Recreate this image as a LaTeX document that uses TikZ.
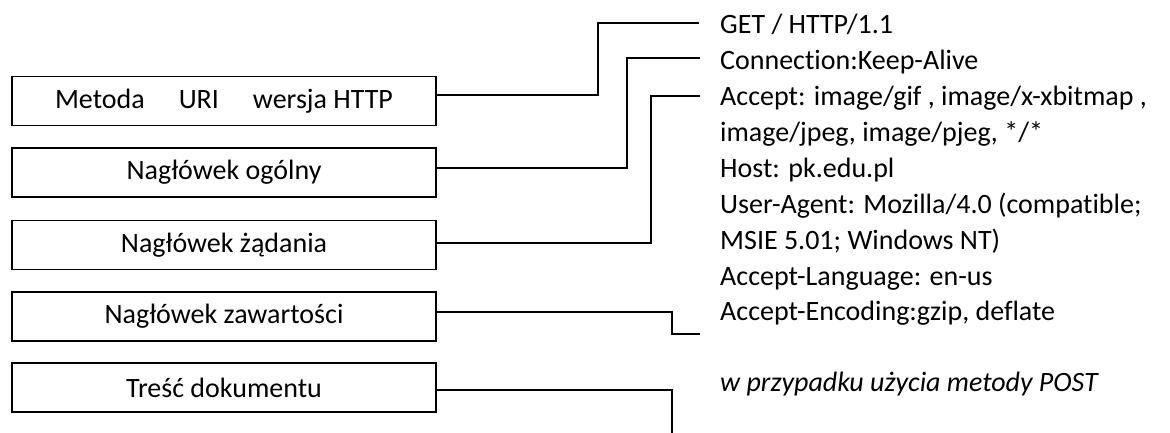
\documentclass[tikz,border=0pt]{standalone}
\usepackage{fontspec}
\setmainfont[Ligatures={NoCommon}]{Carlito}
\begin{document}
\begin{tikzpicture}[x=1pt,y=-1pt,
  box/.style={draw,line width=1.8pt,minimum width=424pt,minimum height=49pt,inner sep=0pt,font=\fontsize{28}{30}\selectfont},
  txt/.style={anchor=base west,inner sep=0pt,font=\fontsize{28}{30}\selectfont},
  conn/.style={line width=1.8pt}]
\useasboundingbox (0,0) rectangle (1170,433);
\node[box] (b1) at (224,101) {Metoda\hspace{34pt}URI\hspace{34pt}wersja HTTP\hspace{8pt}};
\node[box] (b2) at (224,172.5) {Nagłówek ogólny};
\node[box] (b3) at (224,245) {Nagłówek żądania};
\node[box] (b4) at (224,316.5) {Nagłówek zawartości};
\node[box] (b5) at (224,387.5) {Treść dokumentu};
\node[txt] (t1) at (720,34) {GET / HTTP/1.1};
\node[txt] (t2) at (720,70) {Connection:Keep-Alive};
\node[txt] (t3) at (720,106) {Accept: image/gif , image/x-xbitmap ,};
\node[txt] (t4) at (720,141.5) {image/jpeg, image/pjeg, */*};
\node[txt] (t5) at (720,177.5) {Host: pk.edu.pl};
\node[txt] (t6) at (720,213.5) {User-Agent: Mozilla/4.0 (compatible;};
\node[txt] (t7) at (720,249) {MSIE 5.01; Windows NT)};
\node[txt] (t8) at (720,285) {Accept-Language: en-us};
\node[txt] (t9) at (720,320.5) {Accept-Encoding:gzip, deflate};
\node[txt,font=\fontsize{28}{30}\selectfont\itshape] (t10) at (720,391) {w przypadku użycia metody POST};
\coordinate (e1) at (699,23);
\coordinate (e2) at (700,58);
\coordinate (e3) at (700,96);
\coordinate (e4) at (700,334);
\coordinate (e5) at (672,433);
\draw[conn] ([yshift=6pt]b1.east) -- (598,95) |- (e1);
\draw[conn] ([yshift=4.5pt]b2.east) -- (627,168) |- (e2);
\draw[conn] ([yshift=2pt]b3.east) -- (651,243) |- (e3);
\draw[conn] ([yshift=4.5pt]b4.east) -- (672,312) |- (e4);
\draw[conn] ([yshift=-2.5pt]b5.east) -| (e5);
\end{tikzpicture}
\end{document}
